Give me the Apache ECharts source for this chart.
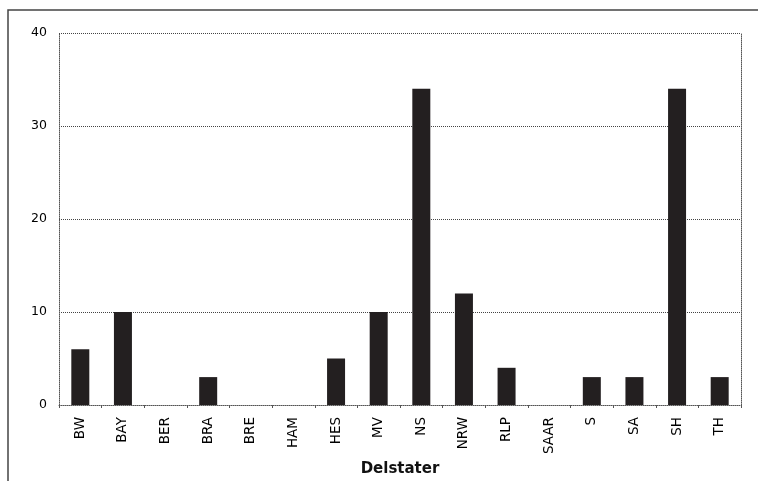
<!DOCTYPE html>
<html><head><meta charset="utf-8">
<script src="https://cdn.jsdelivr.net/npm/echarts@6/dist/echarts.min.js"></script>
<style>html,body{margin:0;padding:0;background:#fff}#c{width:758px;height:481px}</style>
</head><body><div id="c"></div>
<script>
const categories = ['BW','BAY','BER','BRA','BRE','HAM','HES','MV','NS','NRW','RLP','SAAR','S','SA','SH','TH'];
const values = [6,10,0,3,0,0,5,10,34,12,4,0,3,3,34,3];
const yTicks = [0,10,20,30,40];

const chart = echarts.init(document.getElementById('c'));
const font = 'DejaVu Sans, Verdana, sans-serif';
chart.setOption({
  animation: false,
  backgroundColor: '#fff',
  graphic: [{
    type: 'polyline',
    shape: { points: [[8, 481], [8, 10], [758, 10]] },
    style: { stroke: '#444', lineWidth: 1.5, fill: null }
  }],
  grid: { left: 59, right: 17, top: 33, bottom: 76, containLabel: false, outerBoundsMode: 'none' },
  xAxis: {
    type: 'category',
    data: categories,
    name: 'Delstater',
    nameLocation: 'middle',
    nameGap: 55,
    nameTextStyle: { fontFamily: font, fontWeight: 'bold', fontSize: 15, color: '#111' },
    axisLine: { lineStyle: { color: '#555', type: 'dotted', width: 1 } },
    axisTick: { show: true, length: 3, lineStyle: { color: '#555' } },
    axisLabel: { rotate: 90, fontFamily: font, fontSize: 13.5, color: '#000', margin: 12 },
    splitLine: { show: false }
  },
  yAxis: [{
    type: 'value',
    min: 0, max: 40, interval: 10,
    axisLine: { show: true, lineStyle: { color: '#555', type: 'dotted', width: 1 } },
    axisTick: { show: false },
    axisLabel: { fontFamily: font, fontSize: 12.5, color: '#000', margin: 12,
      formatter: v => yTicks.includes(v) ? String(v) : '' },
    splitLine: { show: true, lineStyle: { color: '#444', type: 'dotted', width: 1 } }
  }, {
    type: 'value', position: 'right',
    min: 0, max: 40, interval: 10,
    axisLine: { show: true, lineStyle: { color: '#555', type: 'dotted', width: 1 } },
    axisTick: { show: false }, axisLabel: { show: false }, splitLine: { show: false }
  }],
  series: [{
    type: 'bar',
    data: values,
    barWidth: 18,
    itemStyle: { color: '#231f20' }
  }]
});
</script></body></html>
